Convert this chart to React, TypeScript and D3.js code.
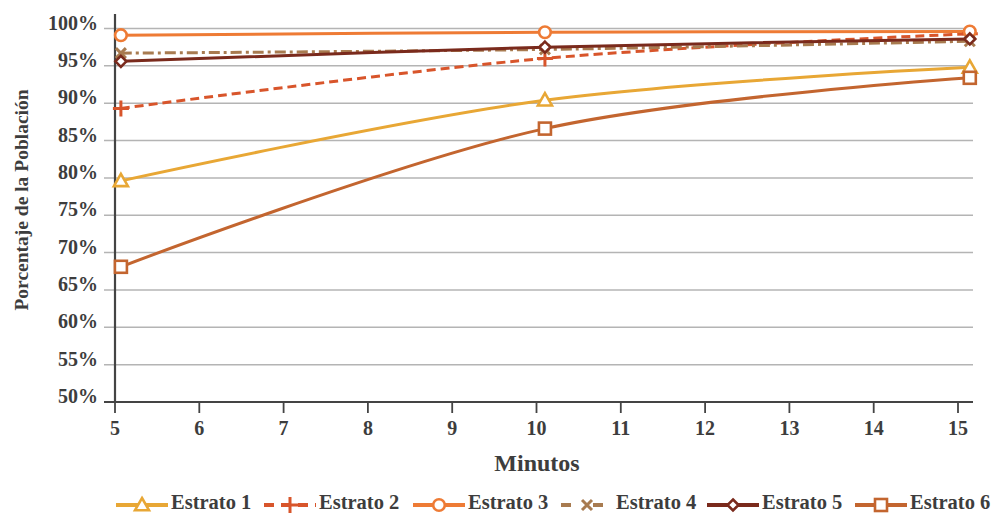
import React from "react";
import * as d3 from "d3";

const minutes = [5.07, 10.1, 15.14];
const seriesNames = ["Estrato 1", "Estrato 2", "Estrato 3", "Estrato 4", "Estrato 5", "Estrato 6"];
const estrato1 = [79.6, 90.4, 94.8];
const estrato2 = [89.3, 96.0, 99.3];
const estrato3 = [99.1, 99.5, 99.6];
const estrato4 = [96.7, 97.2, 98.3];
const estrato5 = [95.6, 97.5, 98.6];
const estrato6 = [68.1, 86.6, 93.4];
const xTicks = [5, 6, 7, 8, 9, 10, 11, 12, 13, 14, 15];
const yTicks = [50, 55, 60, 65, 70, 75, 80, 85, 90, 95, 100];

const values = [estrato1, estrato2, estrato3, estrato4, estrato5, estrato6];
const colors = ["#E8A735", "#D8552B", "#EE7B35", "#A87B50", "#7A2A1C", "#C3652F"];
const dashes = [null, "9 5", null, "11 4 3 4", null, null];
const markers = ["triangle", "plus", "circle", "x", "diamond", "square"];
const legendX = [116, 264, 413, 561, 707, 855];

const FONT = "'Liberation Serif', 'Times New Roman', serif";
const TXT = "#3d3d3d";

function Marker({ type, x, y, color }: { type: string; x: number; y: number; color: string }) {
  const sw = 2.6;
  if (type === "triangle") {
    const s = 7;
    const p = `M${x},${y - s} L${x + s},${y + s * 0.75} L${x - s},${y + s * 0.75} Z`;
    return <path d={p} fill="#fff" stroke={color} strokeWidth={sw} />;
  }
  if (type === "circle") return <circle cx={x} cy={y} r={5.8} fill="#fff" stroke={color} strokeWidth={sw} />;
  if (type === "square") return <rect x={x - 6} y={y - 6} width={12} height={12} fill="#fff" stroke={color} strokeWidth={sw} />;
  if (type === "diamond") {
    const s = 5.5;
    return <path d={`M${x},${y - s} L${x + s},${y} L${x},${y + s} L${x - s},${y} Z`} fill="#fff" stroke={color} strokeWidth={sw} />;
  }
  if (type === "plus") {
    const s = 8;
    return <path d={`M${x - s},${y} L${x + s},${y} M${x},${y - s} L${x},${y + s}`} stroke={color} strokeWidth={3} />;
  }
  const s = 5;
  return <path d={`M${x - s},${y - s} L${x + s},${y + s} M${x + s},${y - s} L${x - s},${y + s}`} stroke={color} strokeWidth={3} />;
}

export default function App() {
  const W = 994, H = 514;
  const x = d3.scaleLinear().domain([5, 15]).range([115, 958]);
  const y = d3.scaleLinear().domain([50, 100]).range([402, 28.5]);
  const xEnd = 973;
  const line = d3
    .line<number>()
    .x((_, i) => x(minutes[i]))
    .y((d) => y(d))
    .curve(d3.curveCatmullRom.alpha(0.5));

  return (
    <svg width={W} height={H} style={{ position: "absolute", left: 0, top: 0 }}>
      <rect width={W} height={H} fill="#fff" />
      {yTicks.map((t) => (
        <g key={t}>
          <line x1={104} x2={t === 50 ? 115 : xEnd} y1={y(t)} y2={y(t)} stroke={t === 50 ? "#444" : "#b4b4b4"} strokeWidth={t === 50 ? 2 : 1.5} />
          <text x={98} y={y(t) + 1} textAnchor="end" fontFamily={FONT} fontWeight="bold" fontSize={20} fill={TXT}>
            {t}%
          </text>
        </g>
      ))}
      <line x1={115} x2={115} y1={14} y2={403} stroke="#444" strokeWidth={2.2} />
      <line x1={104} x2={xEnd} y1={402} y2={402} stroke="#444" strokeWidth={2.2} />
      {xTicks.map((t) => (
        <g key={t}>
          <line x1={x(t)} x2={x(t)} y1={402} y2={413} stroke="#444" strokeWidth={1.8} />
          <text x={x(t)} y={435} textAnchor="middle" fontFamily={FONT} fontWeight="bold" fontSize={20} fill={TXT}>
            {t}
          </text>
        </g>
      ))}
      <text x={537} y={471} textAnchor="middle" fontFamily={FONT} fontWeight="bold" fontSize={24} fill={TXT}>
        Minutos
      </text>
      <text
        transform={`translate(28,200) rotate(-90)`}
        textAnchor="middle"
        fontFamily={FONT}
        fontWeight="bold"
        fontSize={19.5}
        fill={TXT}
      >
        Porcentaje de la Población
      </text>
      {values.map((vals, si) => (
        <path
          key={si}
          d={line(vals) || ""}
          fill="none"
          stroke={colors[si]}
          strokeWidth={3}
          strokeDasharray={dashes[si] || undefined}
        />
      ))}
      {values.map((vals, si) =>
        vals.map((v, i) => <Marker key={`${si}-${i}`} type={markers[si]} x={x(minutes[i])} y={y(v)} color={colors[si]} />)
      )}
      {seriesNames.map((name, si) => (
        <g key={name}>
          <line x1={legendX[si]} x2={legendX[si] + 52} y1={505} y2={505} stroke={colors[si]} strokeWidth={4} strokeDasharray={si === 1 ? "10 7" : si === 3 ? "10 22" : undefined} />
          <Marker type={markers[si]} x={legendX[si] + 26} y={505} color={colors[si]} />
          <text x={legendX[si] + 55} y={509} fontFamily={FONT} fontWeight="bold" fontSize={20.5} fill={TXT}>
            {name}
          </text>
        </g>
      ))}
    </svg>
  );
}
